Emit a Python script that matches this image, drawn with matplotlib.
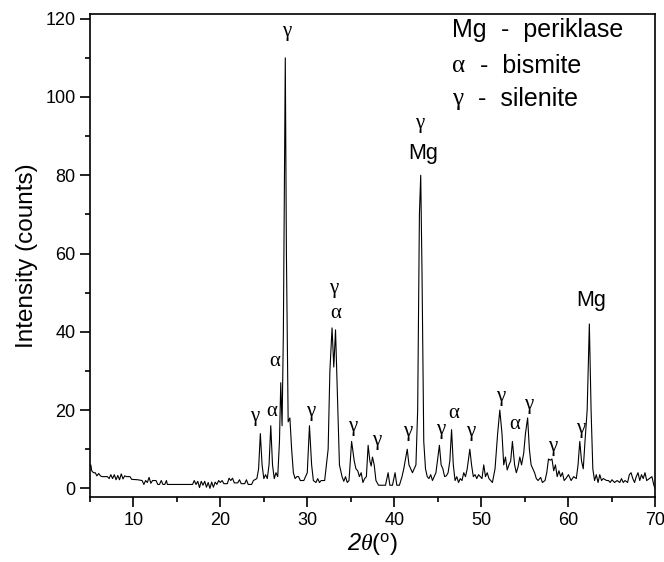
"""XRD pattern with phase labels (periklase, bismite, silenite)."""

import matplotlib

matplotlib.use("Agg")

import matplotlib.pyplot as plt
from matplotlib.ticker import MultipleLocator

# (2-theta deg, intensity counts), low-angle background
background = [
    (5.0, 5.5), (5.1, 6.0), (5.2, 4.5), (5.4, 4.0), (5.6, 4.0), (5.8, 3.2),
    (6.0, 3.8), (6.2, 3.2), (6.4, 3.0), (6.8, 3.0), (7.0, 3.0), (7.2, 2.5),
    (7.4, 3.5), (7.6, 2.5), (7.8, 3.5), (8.0, 2.2), (8.2, 3.3), (8.4, 2.2),
    (8.6, 3.7), (8.8, 2.4), (9.0, 3.2), (9.2, 3.0), (9.6, 3.0), (9.8, 2.3),
    (10.5, 2.2), (11.0, 2.0), (11.2, 1.0), (11.4, 2.0), (11.6, 1.5),
    (11.8, 2.8), (12.0, 1.3), (12.2, 2.0), (12.6, 2.0), (12.8, 1.0),
    (13.0, 1.0), (13.2, 2.0), (13.4, 1.0), (13.6, 1.0), (13.8, 2.0),
    (13.9, 1.0), (14.0, 1.0), (16.8, 1.0), (17.0, 2.0), (17.2, 1.0),
    (17.4, 1.8), (17.6, 0.2), (17.8, 1.8), (18.0, 0.8), (18.2, 1.8),
    (18.4, 0.3), (18.6, 1.5), (18.8, 0.0), (19.0, 1.6), (19.2, 0.3),
    (19.4, 1.6), (19.6, 1.0), (19.8, 2.0), (20.0, 1.5), (20.2, 2.0),
    (20.4, 1.2), (20.8, 1.2), (21.0, 2.6), (21.2, 2.0), (21.4, 2.6),
    (21.6, 1.4), (22.0, 1.4), (22.2, 2.2), (22.4, 1.2), (22.8, 1.2),
    (23.0, 2.2), (23.2, 1.0), (23.6, 1.0), (23.8, 2.0), (24.2, 2.5),
]
# 24-40 deg: bismite / silenite region incl. strongest reflection
peaks_low = [
    (24.4, 5.0), (24.6, 14.0), (24.8, 6.0), (25.0, 2.5), (25.2, 3.5),
    (25.4, 2.5), (25.6, 6.0), (25.8, 16.0), (26.0, 6.0), (26.2, 2.5),
    (26.4, 4.0), (26.6, 3.0), (26.8, 12.0), (26.95, 27.0), (27.1, 16.0),
    (27.25, 40.0), (27.47, 110.0), (27.6, 60.0), (27.8, 17.0), (28.0, 18.0),
    (28.2, 10.0), (28.4, 4.0), (28.6, 2.5), (28.8, 3.0), (29.0, 3.0),
    (29.2, 2.0), (29.6, 2.0), (30.0, 4.0), (30.25, 16.0), (30.5, 6.0),
    (30.7, 2.0), (31.0, 1.5), (31.2, 2.5), (31.4, 1.5), (31.6, 2.0),
    (32.0, 2.0), (32.4, 10.0), (32.6, 30.0), (32.85, 41.0), (33.05, 31.0),
    (33.25, 40.5), (33.45, 25.0), (33.7, 6.0), (34.0, 3.0), (34.2, 1.8),
    (34.4, 3.0), (34.6, 1.5), (34.8, 2.0), (35.1, 12.0), (35.4, 7.0),
    (35.6, 5.0), (35.8, 4.5), (36.0, 3.0), (36.2, 4.0), (36.4, 1.5),
    (36.6, 2.5), (36.8, 3.0), (37.0, 11.0), (37.2, 7.0), (37.35, 5.7),
    (37.5, 8.0), (37.7, 6.0), (37.9, 2.0), (38.2, 0.8), (39.0, 0.8),
    (39.3, 4.0), (39.5, 0.8), (39.8, 0.8), (40.1, 4.0), (40.3, 0.8),
    (40.6, 0.8), (40.9, 3.0),
]
# 41-57 deg: periklase (200) and mixed reflections
peaks_mid = [
    (41.1, 5.0), (41.5, 10.0), (41.7, 6.0), (41.9, 5.0), (42.1, 4.0),
    (42.3, 5.0), (42.5, 6.0), (42.7, 20.0), (42.9, 70.0), (43.05, 80.0),
    (43.2, 55.0), (43.4, 12.0), (43.6, 5.0), (43.8, 3.0), (44.0, 2.5),
    (44.2, 3.5), (44.4, 2.0), (44.6, 3.0), (44.8, 4.0), (45.2, 11.0),
    (45.4, 6.0), (45.6, 5.0), (45.8, 3.0), (46.0, 3.2), (46.2, 4.0),
    (46.4, 7.0), (46.6, 15.0), (46.8, 6.0), (47.0, 2.0), (47.2, 3.0),
    (47.4, 1.5), (47.6, 2.5), (47.8, 2.0), (48.0, 4.0), (48.2, 3.0),
    (48.4, 5.0), (48.7, 10.0), (48.9, 6.0), (49.1, 3.0), (49.3, 3.5),
    (49.5, 2.5), (49.7, 3.5), (49.9, 3.0), (50.1, 2.5), (50.3, 6.0),
    (50.5, 3.0), (50.7, 4.0), (50.9, 2.5), (51.1, 2.0), (51.3, 1.5),
    (51.6, 5.0), (51.9, 14.0), (52.15, 20.0), (52.4, 14.0), (52.6, 6.0),
    (52.8, 8.0), (53.0, 4.7), (53.2, 6.0), (53.4, 7.0), (53.6, 12.0),
    (53.85, 6.0), (54.05, 4.0), (54.25, 5.5), (54.45, 8.0), (54.65, 6.0),
    (54.9, 9.0), (55.1, 14.0), (55.35, 18.0), (55.55, 10.0), (55.75, 6.0),
    (55.95, 5.0), (56.15, 4.0), (56.35, 2.5), (56.55, 2.0), (56.85, 2.8),
]
# 57-70 deg: periklase (220) and tail
peaks_high = [
    (57.05, 1.5), (57.35, 2.0), (57.55, 4.0), (57.75, 7.5), (57.95, 7.2),
    (58.15, 7.5), (58.35, 4.5), (58.55, 6.0), (58.75, 3.0), (58.95, 4.5),
    (59.15, 3.0), (59.35, 4.0), (59.55, 2.0), (59.75, 2.5), (60.05, 3.5),
    (60.35, 2.0), (60.65, 3.0), (60.95, 2.5), (61.15, 6.0), (61.35, 12.0),
    (61.55, 7.0), (61.75, 5.0), (61.95, 12.0), (62.2, 20.0), (62.45, 42.0),
    (62.65, 20.0), (62.85, 5.0), (63.05, 2.0), (63.25, 3.5), (63.45, 1.5),
    (63.65, 3.5), (63.85, 2.0), (64.05, 2.5), (64.45, 2.0), (64.65, 2.0),
    (64.85, 1.5), (65.05, 2.2), (65.35, 1.5), (65.65, 2.0), (65.95, 1.5),
    (66.15, 2.5), (66.35, 1.5), (66.55, 2.0), (66.85, 1.5), (67.05, 3.5),
    (67.25, 4.0), (67.45, 2.5), (67.65, 1.5), (67.85, 3.0), (68.05, 4.0),
    (68.25, 2.0), (68.45, 3.5), (68.65, 2.5), (68.85, 4.0), (69.05, 2.0),
    (69.35, 2.5), (69.65, 3.0), (69.85, 1.0), (70.0, 0.0),
]

# phase labels above the peaks: (2-theta, intensity, text)
peak_labels = [
    (24.0, 18.3, "γ"), (25.95, 19.7, "α"), (26.25, 32.5, "α"),
    (27.6, 116.6, "γ"), (30.4, 19.7, "γ"), (33.0, 51.0, "γ"),
    (33.26, 44.7, "α"), (35.2, 15.7, "γ"), (38.0, 12.3, "γ"),
    (41.6, 14.5, "γ"), (42.9, 93.3, "γ"), (45.3, 15.0, "γ"),
    (46.8, 19.2, "α"), (48.75, 14.5, "γ"), (52.2, 23.4, "γ"),
    (53.9, 16.3, "α"), (55.5, 21.3, "γ"), (58.25, 10.6, "γ"),
    (61.5, 15.3, "γ"),
]
mg_labels = [(43.3, 85.6), (62.7, 48.1)]

legend_lines = [("Mg", "  -  periklase"), ("α", "  -  bismite"), ("γ", "  -  silenite")]
legend_y = [117.0, 108.0, 99.6]

pattern = background + peaks_low + peaks_mid + peaks_high
two_theta = [p[0] for p in pattern]
intensity = [p[1] for p in pattern]

plt.rcParams["font.family"] = "Liberation Sans"
plt.rcParams["mathtext.fontset"] = "custom"
plt.rcParams["mathtext.rm"] = "Liberation Sans"
plt.rcParams["mathtext.it"] = "Liberation Serif:italic"
plt.rcParams["mathtext.sf"] = "Liberation Sans:italic"

fig = plt.figure(figsize=(6.64, 5.62), dpi=100)
ax = fig.add_axes([0.1355, 0.1157, 0.8509, 0.8594])
ax.plot(two_theta, intensity, color="black", lw=0.8)

ax.set_xlim(5, 70)
ax.set_ylim(-2.2, 121.2)
ax.xaxis.set_major_locator(MultipleLocator(10))
ax.xaxis.set_minor_locator(MultipleLocator(5))
ax.yaxis.set_major_locator(MultipleLocator(20))
ax.yaxis.set_minor_locator(MultipleLocator(10))
ax.tick_params(which="both", direction="out", width=1.2, labelsize=13, pad=3.5)
ax.tick_params(which="major", length=7)
ax.tick_params(which="minor", length=3.6)
for spine in ax.spines.values():
    spine.set_linewidth(1.2)

ax.set_xlabel(r"$\mathsf{2}\theta$($^{\mathrm{o}}$)", fontsize=17, labelpad=2)
ax.set_ylabel("Intensity (counts)", fontsize=17.5, labelpad=5)

for x, y, s in peak_labels:
    ax.text(x, y, s, ha="center", va="center", fontsize=15, family="Liberation Serif")
for x, y in mg_labels:
    ax.text(x, y, "Mg", ha="center", va="center", fontsize=15.5)

fig.canvas.draw()
renderer = fig.canvas.get_renderer()
for (sym, rest), y in zip(legend_lines, legend_y):
    fam = "Liberation Sans" if sym == "Mg" else "Liberation Serif"
    t = ax.text(46.7, y, sym, ha="left", va="center", fontsize=18, family=fam)
    bb = t.get_window_extent(renderer=renderer)
    x1 = ax.transData.inverted().transform((bb.x1, bb.y0))[0]
    ax.text(x1, y, rest, ha="left", va="center", fontsize=18)

fig.savefig("out.png", dpi=100)
